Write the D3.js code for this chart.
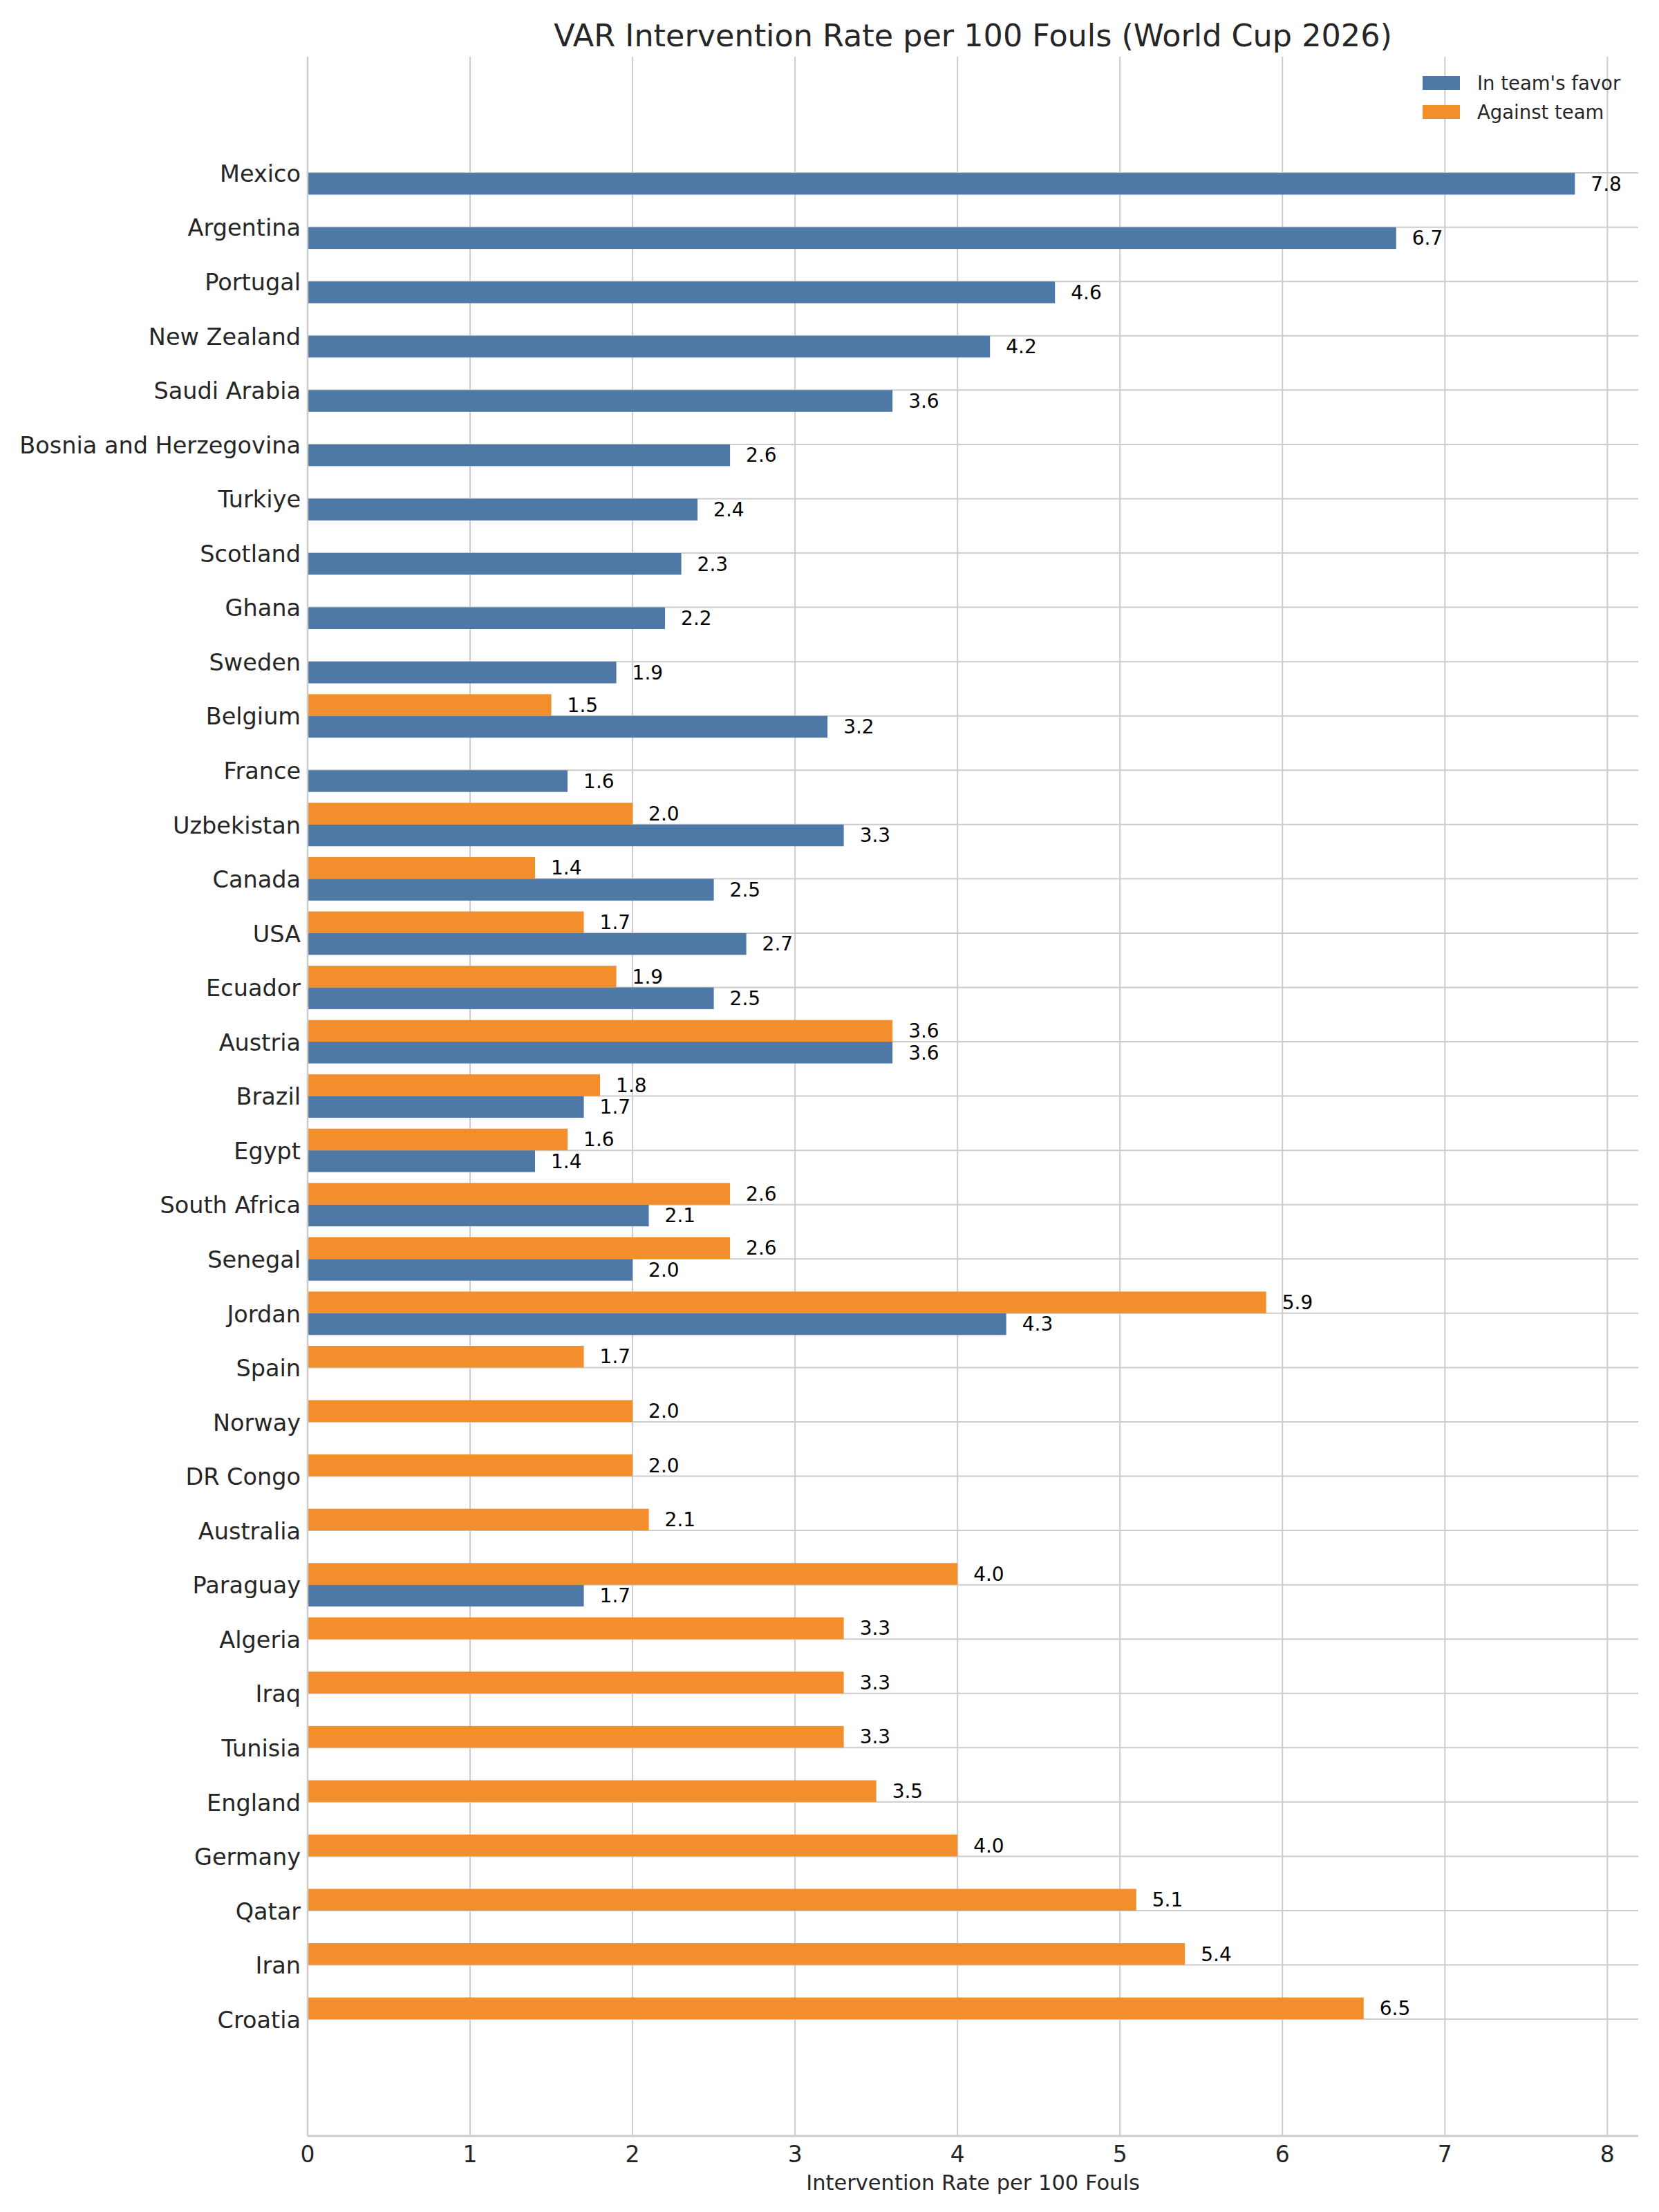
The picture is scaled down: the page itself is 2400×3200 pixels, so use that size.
<html>
<head>
<style>
  body { margin: 0; padding: 0; background: white; }
  svg { display: block; }
  text { font-family: "DejaVu Sans", sans-serif; }
</style>
<script src="https://cdn.jsdelivr.net/npm/d3@7"></script>
</head>
<body>
<svg width="2400" height="3200"></svg>
<script>

// chart data
const countries = ["Mexico", "Argentina", "Portugal", "New Zealand", "Saudi Arabia",
  "Bosnia and Herzegovina", "Turkiye", "Scotland", "Ghana", "Sweden", "Belgium", "France",
  "Uzbekistan", "Canada", "USA", "Ecuador", "Austria", "Brazil", "Egypt", "South Africa",
  "Senegal", "Jordan", "Spain", "Norway", "DR Congo", "Australia", "Paraguay", "Algeria",
  "Iraq", "Tunisia", "England", "Germany", "Qatar", "Iran", "Croatia"];
const inFavor = [7.8, 6.7, 4.6, 4.2, 3.6, 2.6, 2.4, 2.3, 2.2, 1.9, 3.2, 1.6,
  3.3, 2.5, 2.7, 2.5, 3.6, 1.7, 1.4, 2.1, 2.0, 4.3, null, null, null, null, 1.7, null,
  null, null, null, null, null, null, null];
const against = [null, null, null, null, null, null, null, null, null, null, 1.5, null,
  2.0, 1.4, 1.7, 1.9, 3.6, 1.8, 1.6, 2.6, 2.6, 5.9, 1.7, 2.0, 2.0, 2.1, 4.0, 3.3,
  3.3, 3.3, 3.5, 4.0, 5.1, 5.4, 6.5];
const xTicks = [0, 1, 2, 3, 4, 5, 6, 7, 8];
const seriesNames = ["In team's favor", "Against team"];
const colors = ["#4e79a7", "#f28e2b"];

const svg = d3.select("svg");
const plotL = 445, plotR = 2370, plotT = 82, plotB = 3090;
const barH = 0.4;

const x = d3.scaleLinear().domain([0, d3.max(inFavor.concat(against)) * 1.05]).range([plotL, plotR]);
const y = d3.scaleLinear().domain([-2.14, countries.length - 1 + 2.15]).range([plotT, plotB]);

// grid
svg.append("g").selectAll("line").data(xTicks).join("line")
  .attr("x1", d => x(d)).attr("x2", d => x(d))
  .attr("y1", plotT).attr("y2", plotB)
  .attr("stroke", "#cccccc").attr("stroke-width", 2);
svg.append("g").selectAll("line").data(countries).join("line")
  .attr("x1", plotL).attr("x2", plotR)
  .attr("y1", (d, i) => y(i)).attr("y2", (d, i) => y(i))
  .attr("stroke", "#cccccc").attr("stroke-width", 2);

// bars: favor below the tick, against above
const rows = countries.map((c, i) => ({ i, fav: inFavor[i], ag: against[i] }));
const bars = svg.append("g");
bars.selectAll(".fav").data(rows.filter(d => d.fav)).join("rect")
  .attr("class", "fav")
  .attr("x", x(0)).attr("width", d => x(d.fav) - x(0))
  .attr("y", d => y(d.i)).attr("height", y(barH) - y(0))
  .attr("fill", colors[0]);
bars.selectAll(".ag").data(rows.filter(d => d.ag)).join("rect")
  .attr("class", "ag")
  .attr("x", x(0)).attr("width", d => x(d.ag) - x(0))
  .attr("y", d => y(d.i - barH)).attr("height", y(barH) - y(0))
  .attr("fill", colors[1]);

// value labels
const labels = svg.append("g").attr("font-size", 28).attr("fill", "#000");
labels.selectAll(".lf").data(rows.filter(d => d.fav)).join("text")
  .attr("x", d => x(d.fav) + 23).attr("y", d => y(d.i + barH / 2))
  .attr("dy", "0.35em").text(d => d.fav.toFixed(1));
labels.selectAll(".la").data(rows.filter(d => d.ag)).join("text")
  .attr("x", d => x(d.ag) + 23).attr("y", d => y(d.i - barH / 2))
  .attr("dy", "0.35em").text(d => d.ag.toFixed(1));

// spines
svg.append("line").attr("x1", plotL).attr("x2", plotL).attr("y1", plotT).attr("y2", plotB)
  .attr("stroke", "#cccccc").attr("stroke-width", 2.5);
svg.append("line").attr("x1", plotL).attr("x2", plotR).attr("y1", plotB).attr("y2", plotB)
  .attr("stroke", "#cccccc").attr("stroke-width", 3);

// category labels
svg.append("g").selectAll("text").data(countries).join("text")
  .attr("x", plotL - 10).attr("y", (d, i) => y(i))
  .attr("dy", "0.38em").attr("text-anchor", "end")
  .attr("font-size", 33.5).attr("fill", "#262626").text(d => d);

// x tick labels
svg.append("g").selectAll("text").data(xTicks).join("text")
  .attr("x", d => x(d)).attr("y", 3116).attr("dy", "0.35em")
  .attr("text-anchor", "middle").attr("font-size", 33).attr("fill", "#262626")
  .text(d => d);

svg.append("text").attr("x", (plotL + plotR) / 2).attr("y", 3157).attr("dy", "0.35em")
  .attr("text-anchor", "middle").attr("font-size", 30.5).attr("fill", "#262626")
  .text("Intervention Rate per 100 Fouls");

svg.append("text").attr("x", (plotL + plotR) / 2).attr("y", 51).attr("dy", "0.35em")
  .attr("text-anchor", "middle").attr("font-size", 44.5).attr("fill", "#262626")
  .text("VAR Intervention Rate per 100 Fouls (World Cup 2026)");

// legend
const legend = svg.append("g");
seriesNames.forEach((name, k) => {
  const ly = 120 + k * 42;
  legend.append("rect").attr("x", 2058).attr("y", ly - 10).attr("width", 54).attr("height", 20)
    .attr("fill", colors[k]);
  legend.append("text").attr("x", 2137).attr("y", ly).attr("dy", "0.35em")
    .attr("font-size", 27.5).attr("fill", "#262626").text(name);
});

</script>
</body>
</html>
